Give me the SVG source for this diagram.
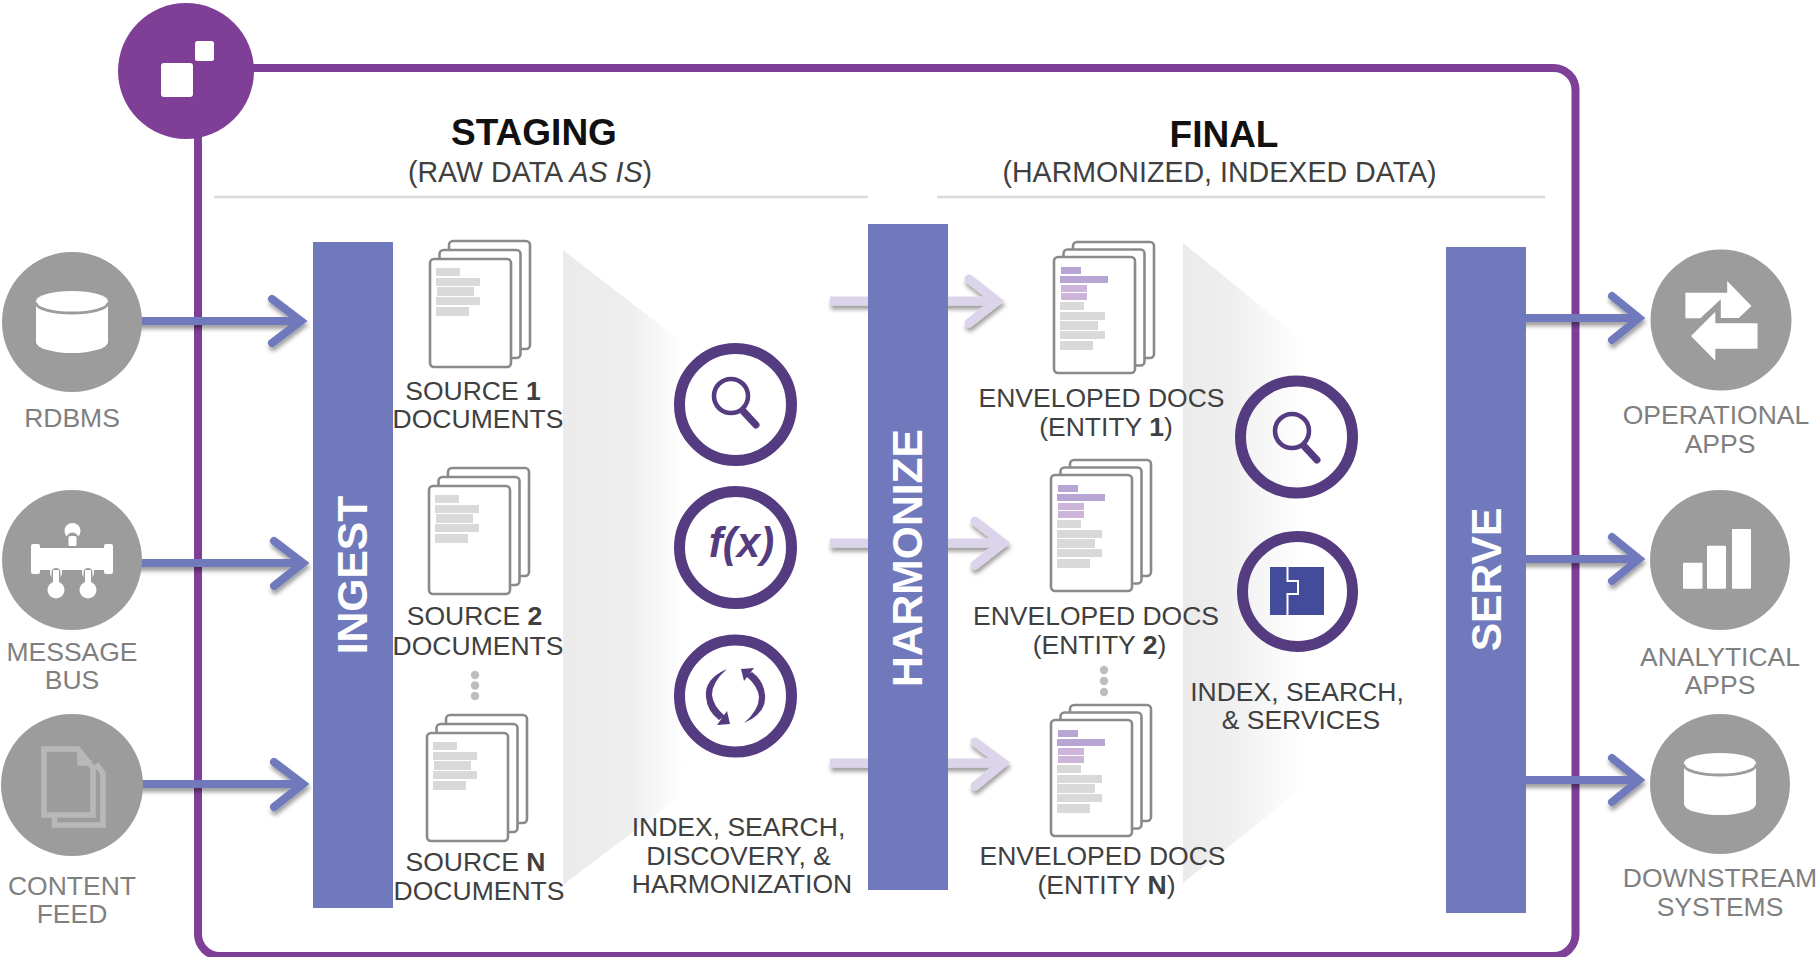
<svg xmlns="http://www.w3.org/2000/svg" width="1819" height="957" viewBox="0 0 1819 957">
<style>
text{font-family:"Liberation Sans",Arial,sans-serif;font-size:26.5px;text-anchor:middle;fill:#404040}
.g{fill:#7f7f7f}
.h{font-size:37px;font-weight:700;fill:#111}
.s{font-size:28.6px}
.v{font-size:42.6px;font-weight:700;fill:#fff}
.bar{fill:#6f79bc}
.disc{fill:#9c9c9c}
.ring{fill:none;stroke:#553b80;stroke-width:11}
.rule{stroke:#dcdcdc;stroke-width:2.6;fill:none}
.page{fill:#fff;stroke:#8a8a8a;stroke-width:2.6}
.dot{fill:#bdbdbd}
.a1{fill:none;stroke:#6f79bc;stroke-width:8;stroke-linecap:round;stroke-linejoin:miter}
.a2{fill:none;stroke:#dcd4ea;stroke-width:9;stroke-linecap:round;stroke-linejoin:miter}
.shaft{stroke-linecap:butt}
.t{fill:#d9d9d9}.p1{fill:#b8a5d4}.p2{fill:#ccb5d8}
</style>
<defs>
<linearGradient id="w1" gradientUnits="userSpaceOnUse" x1="563" y1="0" x2="684" y2="0"><stop offset="0" stop-color="#ebebeb"/><stop offset=".55" stop-color="#eeeeee"/><stop offset="1" stop-color="#fff"/></linearGradient>
<linearGradient id="w2" gradientUnits="userSpaceOnUse" x1="1183" y1="0" x2="1302" y2="0"><stop offset="0" stop-color="#ebebeb"/><stop offset=".35" stop-color="#eeeeee"/><stop offset="1" stop-color="#fff"/></linearGradient>
<filter id="sh" x="-20%" y="-40%" width="140%" height="190%"><feDropShadow dx="1" dy="4" stdDeviation="2" flood-color="#000" flood-opacity=".38"/></filter>
<g id="stack">
<rect class="page" x="19" y="-18" width="81" height="108" rx="4"/>
<rect class="page" x="9.5" y="-9" width="81" height="108" rx="4"/>
<rect class="page" x="0" y="0" width="81" height="108" rx="4"/>
<rect class="t" x="6" y="9" width="24" height="8"/><rect class="t" x="6" y="19" width="44" height="8"/><rect class="t" x="7" y="28" width="37" height="9"/><rect class="t" x="6" y="38" width="44" height="8"/><rect class="t" x="6" y="48" width="33" height="9"/>
</g>
<g id="env">
<rect class="page" x="19" y="-15" width="81" height="116" rx="4"/>
<rect class="page" x="9.5" y="-7.5" width="81" height="116" rx="4"/>
<rect class="page" x="0" y="0" width="81" height="116" rx="4"/>
<rect class="p1" x="7" y="10" width="20" height="7"/><rect class="p1" x="6" y="19" width="48" height="7"/><rect class="p2" x="7" y="28" width="26" height="7"/><rect class="p2" x="7" y="36" width="26" height="7"/>
<rect class="t" x="6" y="45" width="24" height="8"/><rect class="t" x="6" y="55" width="45" height="8"/><rect class="t" x="6" y="64" width="38" height="9"/><rect class="t" x="6" y="74" width="45" height="8"/><rect class="t" x="6" y="84" width="33" height="9"/>
</g>
<g id="db">
<path d="M36 304V342A36 11 0 0 0 108 342V304Z" fill="#fff"/>
<ellipse cx="72" cy="301" rx="36" ry="10" fill="#fff"/>
<path d="M36 303A36 10 0 0 0 108 303" fill="none" stroke="#9c9c9c" stroke-width="2.8"/>
</g>
<g id="lens" fill="none" stroke="#553b80">
<circle cx="0" cy="0" r="17" stroke-width="4.6"/>
<path d="M12 15L25 29" stroke-width="7" stroke-linecap="round"/>
</g>
</defs>

<g id="frame">
<rect x="198" y="68" width="1377.5" height="888" rx="22" fill="#fff" stroke="#7f3f97" stroke-width="8"/>
</g>
<g id="wedges">
<polygon points="563,250 700,356 700,781 563,885" fill="url(#w1)"/>
<polygon points="1183,243 1310,346 1310,782 1183,883" fill="url(#w2)"/>
</g>
<g id="headers">
<text class="h" x="534" y="145">STAGING</text>
<text class="s" x="530" y="182">(RAW DATA <tspan font-style="italic">AS IS</tspan>)</text>
<path class="rule" d="M214 197H868"/>
<text class="h" x="1224" y="147">FINAL</text>
<text class="s" x="1219.5" y="182">(HARMONIZED, INDEXED DATA)</text>
<path class="rule" d="M937 197H1545"/>
</g>

<g id="connectors">
<g class="a1" filter="url(#sh)">
<path class="shaft" d="M130 321H300"/><path d="M272 299L301 321L272 343"/>
<path class="shaft" d="M130 563H302"/><path d="M274 541L303 563L274 586"/>
<path class="shaft" d="M130 784H302"/><path d="M274 762L303 784L274 807"/>
<path class="shaft" d="M1520 318H1638"/><path d="M1612 296L1639 318L1612 340"/>
<path class="shaft" d="M1520 559H1638"/><path d="M1612 537L1639 559L1612 581"/>
<path class="shaft" d="M1520 780H1638"/><path d="M1612 758L1639 780L1612 802"/>
</g>
<g class="a2" filter="url(#sh)">
<path class="shaft" d="M830 301H996"/><path d="M969 279L997 301L969 323"/>
<path class="shaft" d="M830 543H1002"/><path d="M975 521L1003 543L975 565"/>
<path class="shaft" d="M830 763H1002"/><path d="M975 742L1003 763L975 786"/>
</g>
</g>

<g id="ingest"><rect class="bar" x="313" y="242" width="80" height="666"/><text class="v" transform="translate(367 575) rotate(-90)">INGEST</text></g>
<g id="harmonize"><rect class="bar" x="868" y="224" width="80" height="666"/><text class="v" transform="translate(921.5 558) rotate(-90)">HARMONIZE</text></g>
<g id="serve"><rect class="bar" x="1446" y="247" width="80" height="666"/><text class="v" transform="translate(1501 579.5) rotate(-90)">SERVE</text></g>

<g id="hub">
<circle cx="186" cy="71" r="68" fill="#7f3f97"/>
<rect x="161" y="63" width="32" height="34" rx="3" fill="#fff"/>
<rect x="195" y="41" width="19" height="20" rx="2.5" fill="#fff"/>
</g>

<g id="rdbms">
<circle class="disc" cx="72" cy="322" r="70"/><use href="#db"/>
<text class="g" x="72" y="427">RDBMS</text>
</g>
<g id="message-bus">
<circle class="disc" cx="72" cy="560" r="70"/>
<g fill="#fff">
<rect x="31" y="544" width="9" height="30" rx="2"/><rect x="104" y="544" width="9" height="30" rx="2"/><rect x="38" y="548" width="68" height="22"/>
<circle cx="72.5" cy="531" r="8"/><path d="M66 539a6.5 6.5 0 0 1 13 0z" fill="#9c9c9c"/><rect x="68.500" y="536" width="8" height="10" rx="1.500"/>
<rect x="50" y="565" width="12" height="14" rx="6"/><rect x="82" y="565" width="12" height="14" rx="6"/>
<rect x="51.500" y="568" width="9" height="14" rx="4.500" fill="#9c9c9c"/><rect x="83.500" y="568" width="9" height="14" rx="4.500" fill="#9c9c9c"/>
<rect x="53" y="570" width="6" height="14"/><rect x="85" y="570" width="6" height="14"/>
<circle cx="56" cy="590" r="8.500"/><circle cx="88" cy="590" r="8.500"/>
</g>
<text class="g" x="72" y="661">MESSAGE</text><text class="g" x="72" y="689">BUS</text>
</g>
<g id="content-feed">
<circle class="disc" cx="72" cy="785" r="71"/>
<g fill="none" stroke="#b9b8b9" stroke-width="5.600">
<path d="M44 749H78L93 768V815H44Z"/>
<path d="M103 772V825H54.500V817"/><path d="M96 764L103 773"/>
<path d="M80 750V763H92"/>
</g>
<text class="g" x="72" y="895">CONTENT</text><text class="g" x="72" y="923">FEED</text>
</g>

<g id="source-1"><use href="#stack" x="430" y="259"/><text x="473" y="400">SOURCE <tspan font-weight="700">1</tspan></text><text x="478" y="428">DOCUMENTS</text></g>
<g id="source-2"><use href="#stack" x="429" y="486"/><text x="474.500" y="625">SOURCE <tspan font-weight="700">2</tspan></text><text x="478" y="655">DOCUMENTS</text></g>
<g id="source-dots"><circle class="dot" cx="475" cy="675" r="4.200"/><circle class="dot" cx="475" cy="685.500" r="4.200"/><circle class="dot" cx="475" cy="696" r="4.200"/></g>
<g id="source-n"><use href="#stack" x="427" y="733"/><text x="475.500" y="871">SOURCE <tspan font-weight="700">N</tspan></text><text x="479" y="900">DOCUMENTS</text></g>

<g id="staging-search"><circle class="ring" cx="735.500" cy="404.500" r="56"/><use href="#lens" x="731" y="396"/></g>
<g id="staging-fx"><circle class="ring" cx="735.500" cy="547.500" r="56"/><text x="741.500" y="557" style="font-size:42px;font-weight:700;font-style:italic;fill:#553b80">f(x)</text></g>
<g id="staging-cycle"><circle class="ring" cx="735.500" cy="696" r="56"/>
<g fill="#553b80">
<path d="M727 669Q704 679 706 697Q707 711 719 720L725 716Q713 706 712 695Q712 682 727 669Z M717 725L730 724L727 711Z"/>
<path d="M744 723Q767 713 765 695Q764 681 752 672L746 676Q758 686 759 697Q759 710 744 723Z M754 668L741 669L744 681Z"/>
</g></g>
<text x="738.500" y="836">INDEX, SEARCH,</text><text x="738.500" y="865">DISCOVERY, &amp;</text><text x="742" y="893">HARMONIZATION</text>

<g id="entity-1"><use href="#env" x="1054" y="257"/><text x="1101.500" y="407">ENVELOPED DOCS</text><text x="1106" y="436">(ENTITY <tspan font-weight="700">1</tspan>)</text></g>
<g id="entity-2"><use href="#env" x="1051" y="475"/><text x="1096" y="625">ENVELOPED DOCS</text><text x="1099.500" y="654">(ENTITY <tspan font-weight="700">2</tspan>)</text></g>
<g id="entity-dots"><circle class="dot" cx="1104" cy="670" r="4.200"/><circle class="dot" cx="1104" cy="681" r="4.200"/><circle class="dot" cx="1104" cy="692" r="4.200"/></g>
<g id="entity-n"><use href="#env" x="1051" y="720"/><text x="1102.500" y="865">ENVELOPED DOCS</text><text x="1106.500" y="894">(ENTITY <tspan font-weight="700">N</tspan>)</text></g>

<g id="final-search"><circle class="ring" cx="1296.500" cy="437" r="56"/><use href="#lens" x="1292" y="431"/></g>
<g id="final-services"><circle class="ring" cx="1297.500" cy="591.500" r="55"/>
<rect x="1270" y="567" width="54" height="48" fill="#434b9b"/>
<path d="M1287.500 567V581H1298V594H1287.500V615" fill="none" stroke="#fff" stroke-width="2"/></g>
<text x="1297" y="701">INDEX, SEARCH,</text><text x="1301" y="729">&amp; SERVICES</text>

<g id="operational-apps">
<circle class="disc" cx="1721" cy="320" r="70.500"/>
<polygon fill="#fff" points="1685.400,292.700 1727.200,292.700 1727.200,281 1751.500,306 1738.700,318 1720.800,318 1720.800,299.300 1700.300,318.300 1685.400,318.300"/>
<polygon fill="#fff" points="1715.300,311.700 1715.300,323.300 1757.500,323.300 1757.500,348.700 1715.300,348.700 1715.300,360.700 1691,336"/>
<text class="g" x="1716" y="424">OPERATIONAL</text><text class="g" x="1720" y="453">APPS</text>
</g>
<g id="analytical-apps">
<circle class="disc" cx="1720" cy="560" r="70"/>
<rect x="1683" y="562.700" width="19.500" height="26" rx="1" fill="#fff"/><rect x="1707" y="545.700" width="19" height="43" rx="1" fill="#fff"/><rect x="1732" y="529" width="19" height="59.700" rx="1" fill="#fff"/>
<text class="g" x="1720" y="666">ANALYTICAL</text><text class="g" x="1720" y="694">APPS</text>
</g>
<g id="downstream-systems">
<circle class="disc" cx="1720" cy="784" r="70"/><use href="#db" x="1648" y="462"/>
<text class="g" x="1720" y="887">DOWNSTREAM</text><text class="g" x="1720" y="916">SYSTEMS</text>
</g>
</svg>
